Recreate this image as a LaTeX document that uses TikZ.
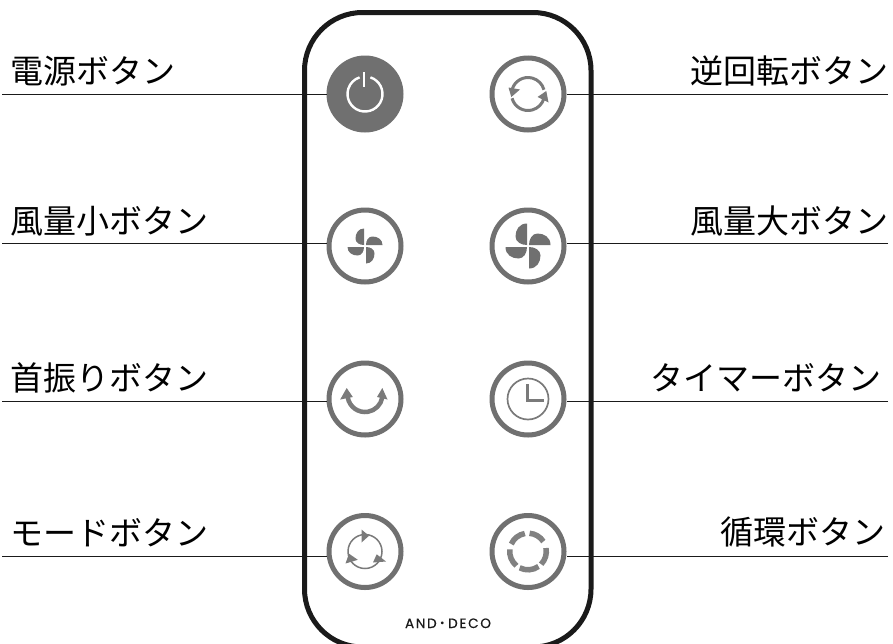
\documentclass[tikz,border=0pt]{standalone}
\usepackage{fontspec}
\newfontfamily\cjk{Noto Sans CJK JP}
\newfontfamily\logofont[LetterSpace=13,FakeBold=0.6]{Poppins}
\definecolor{btn}{HTML}{707070}
\definecolor{icon}{HTML}{7A7A7A}
\definecolor{ink}{HTML}{1A1A1A}
\tikzset{
  button/.style={circle,draw=btn,line width=5pt,fill=white,minimum size=72pt,inner sep=0pt},
  powerbutton/.style={circle,fill=btn,minimum size=77pt,inner sep=0pt,outer sep=0pt},
  label/.style={text=black,inner sep=0pt,font=\cjk\fontsize{33}{33}\selectfont},
  leftlabel/.style={label,anchor=base west},
  rightlabel/.style={label,anchor=base east},
  leader/.style={draw=ink,line width=1pt},
  thinline/.style={draw=icon,line width=1.7pt},
  midline/.style={draw=icon,line width=3pt},
  blade/.style={fill=btn,draw=none}
}
\newcommand{\fanblades}[2]{%
  \foreach \a in {0,90,180,270}{
    \fill[blade,rotate=\a] (-1,1) -- (-1,#1) .. controls (-#2*0.7,#1) and (-#2,#1*0.72) .. (-#2,#1*0.42) .. controls (-#2,#1*0.18) and (-#2*0.55,1) .. (-1,1) -- cycle;
  }}
\begin{document}
\begin{tikzpicture}[x=1pt,y=1pt]
\clip (0,-643) rectangle (893,0);
\useasboundingbox (0,-643) rectangle (893,0);
\fill[white] (0,-643) rectangle (893,0);
\draw[ink,line width=5pt,rounded corners=58pt] (304.5,-12.5) rectangle (591,-647);

\node[powerbutton] (power) at (365,-94) {};
\node[button] (reverse) at (528,-94) {};
\node[button] (low) at (365,-246) {};
\node[button] (high) at (528,-246) {};
\node[button] (swing) at (365,-399) {};
\node[button] (timer) at (528,-399) {};
\node[button] (mode) at (365,-551.5) {};
\node[button] (circ) at (528,-551.5) {};

\node[leftlabel] (t1) at (10,-83) {電源ボタン};
\node[leftlabel] (t2) at (10,-233) {風量小ボタン};
\node[leftlabel] (t3) at (10,-390) {首振りボタン};
\node[leftlabel] (t4) at (10,-545) {モードボタン};
\node[rightlabel] (t5) at (889,-83.5) {逆回転ボタン};
\node[rightlabel] (t6) at (889,-233) {風量大ボタン};
\node[rightlabel] (t7) at (882,-390) {タイマーボタン};
\node[rightlabel] (t8) at (886,-544) {循環ボタン};

\coordinate (l1) at (2,-94);
\coordinate (l2) at (2,-243);
\coordinate (l3) at (2,-401);
\coordinate (l4) at (2,-556);
\coordinate (r1) at (888,-94);
\coordinate (r2) at (888,-243);
\coordinate (r3) at (888,-401);
\coordinate (r4) at (888,-556);
\draw[leader] (l1) -- (power.west |- l1);
\draw[leader] (l2) -- (low.west |- l2);
\draw[leader] (l3) -- (swing.west |- l3);
\draw[leader] (l4) -- (mode.west |- l4);
\draw[leader] (r1) -- (reverse.east |- r1);
\draw[leader] (r2) -- (high.east |- r2);
\draw[leader] (r3) -- (timer.east |- r3);
\draw[leader] (r4) -- (circ.east |- r4);

% power icon
\begin{scope}[shift={(power.center)}]
  \draw[white,line width=2.4pt] (72:17.5) arc[start angle=72,end angle=-252,radius=17.5];
  \draw[white,line width=2.4pt] (-1,22) -- (-1,7.5);
\end{scope}
% reverse icon
\begin{scope}[shift={(reverse.center)}]
  \draw[midline] (165:16.5) arc[start angle=165,end angle=15,radius=16.5];
  \draw[midline] (195:16.5) arc[start angle=195,end angle=345,radius=16.5];
  \fill[icon] (-19.5,6.5) -- (-8,4.5) -- (-16.7,-3) -- cycle;
  \fill[icon] (20.5,-8.5) -- (9.5,-3) -- (18.3,3) -- cycle;
\end{scope}
% fans
\begin{scope}[shift={(low.center)}] \fanblades{17.5}{9.5} \end{scope}
\begin{scope}[shift={(high.center)}] \fanblades{22.5}{12.5} \end{scope}
% swing icon
\begin{scope}[shift={(swing.center)}]
  \draw[draw=icon,line width=4.5pt] (190:17.5)++(0,4.5) arc[start angle=190,end angle=350,radius=17.5];
  \fill[icon] (-18.3,11) -- (-24.8,-0.5) -- (-12.2,2) -- cycle;
  \fill[icon] (17.3,11) -- (12,2) -- (22.5,-0.5) -- cycle;
\end{scope}
% timer icon
\begin{scope}[shift={(timer.center)}]
  \draw[thinline] (0,0) circle[radius=20.5];
  \draw[midline,miter limit=4] (-0.5,15) -- (-0.5,-1.2) -- (16,-1.2);
\end{scope}
% mode icon
\begin{scope}[shift={(mode.center)}]
  \draw[draw=icon,line width=1.5pt] (0,0) circle[radius=17];
  \fill[icon] (-3.5,22) -- (4,15.7) -- (-3.5,9) -- cycle;
  \fill[icon] (21,-10) -- (11.7,-2.8) -- (8,-11) -- cycle;
  \fill[icon] (-19.5,-12) -- (-7.2,-8.3) -- (-16,-2.2) -- cycle;
\end{scope}
% circulation icon
\begin{scope}[shift={(circ.center)}]
  \foreach \s/\e in {100/156,173/231,243/305,316/371,33/85}{
    \draw[draw=icon!95!white,line width=5.5pt] (\s:18.3) arc[start angle=\s,end angle=\e,radius=18.3];
  }
\end{scope}

\node[anchor=base,inner sep=0pt,text=ink,font=\fontsize{13.5}{13.5}\selectfont] (logo) at (448,-628) {\logofont AND\kern-1pt{\cjk ・}\kern-1pt DECO};
\end{tikzpicture}
\end{document}
